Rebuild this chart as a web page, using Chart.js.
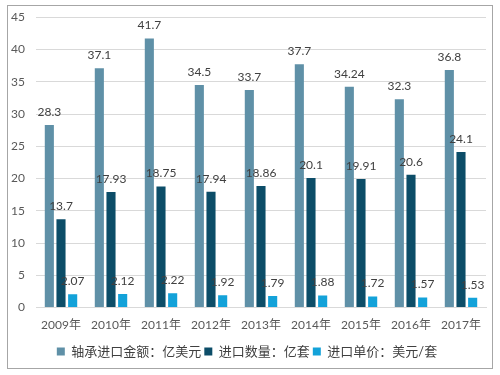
<!DOCTYPE html>
<html>
<head>
<meta charset="utf-8">
<script src="https://cdn.jsdelivr.net/npm/chart.js@4"></script>
<style>
    body { margin: 0; background: #fff; }
    #box {
        position: absolute; left: 7px; top: 5px;
        width: 484px; height: 362px;
        border: 1px solid #a6a6a6;
    }
</style>
</head>
<body>
<div id="box"><canvas id="chart" width="484" height="362"></canvas></div>
<script>
// Bearing imports 2009-2017
const years = ['2009年', '2010年', '2011年', '2012年', '2013年', '2014年', '2015年', '2016年', '2017年'];
const amount = [28.3, 37.1, 41.7, 34.5, 33.7, 37.7, 34.24, 32.3, 36.8];   // 亿美元
const quantity = [13.7, 17.93, 18.75, 17.94, 18.86, 20.1, 19.91, 20.6, 24.1]; // 亿套
const unitPrice = [2.07, 2.12, 2.22, 1.92, 1.79, 1.88, 1.72, 1.57, 1.53];  // 美元/套
const yTicks = [0, 5, 10, 15, 20, 25, 30, 35, 40, 45];

const FONT = 'Lato, "Noto Sans CJK SC", sans-serif';

// draw value above each bar
const valueLabels = {
    id: 'valueLabels',
    afterDatasetsDraw(chart) {
        const ctx = chart.ctx;
        ctx.save();
        ctx.font = '12px ' + FONT;
        ctx.fillStyle = '#404040';
        ctx.textAlign = 'center';
        ctx.textBaseline = 'middle';
        chart.data.datasets.forEach((ds, i) => {
            const meta = chart.getDatasetMeta(i);
            meta.data.forEach((bar, j) => {
                ctx.fillText(String(ds.data[j]), bar.x, bar.y - 13);
            });
        });
        ctx.restore();
    }
};

new Chart(document.getElementById('chart'), {
    type: 'bar',
    data: {
        labels: years,
        datasets: [
            { label: '轴承进口金额：亿美元', data: amount, backgroundColor: '#5f90a7' },
            { label: '进口数量：亿套', data: quantity, backgroundColor: '#0c4d68' },
            { label: '进口单价：美元/套', data: unitPrice, backgroundColor: '#13a2d9' },
        ],
    },
    options: {
        responsive: false,
        animation: false,
        datasets: { bar: { categoryPercentage: 0.7, barPercentage: 0.78 } },
        layout: { padding: { top: 0, right: 6, left: 0, bottom: 0 } },
        plugins: {
            legend: {
                position: 'bottom',
                labels: {
                    boxWidth: 8, boxHeight: 8,
                    color: '#404040',
                    font: { size: 13, family: FONT, lineHeight: 0.6 },
                    padding: 3,
                },
            },
            tooltip: { enabled: false },
        },
        scales: {
            x: {
                grid: { display: false, drawTicks: false },
                border: { color: '#d9d9d9' },
                ticks: { color: '#595959', font: { size: 12, family: FONT }, maxRotation: 0, padding: 10 },
            },
            y: {
                min: 0, max: 45,
                afterBuildTicks: (axis) => { axis.ticks = yTicks.map(v => ({ value: v })); },
                afterFit: (axis) => { axis.width = 28; },
                // invisible tick marks keep the labels away from the gridlines
                grid: { color: '#d9d9d9', drawTicks: true, tickLength: 7, tickColor: 'rgba(0,0,0,0)' },
                border: { display: false },
                ticks: { color: '#595959', font: { size: 12, family: FONT }, padding: 4 },
            },
        },
    },
    plugins: [valueLabels],
});
</script>
</body>
</html>
